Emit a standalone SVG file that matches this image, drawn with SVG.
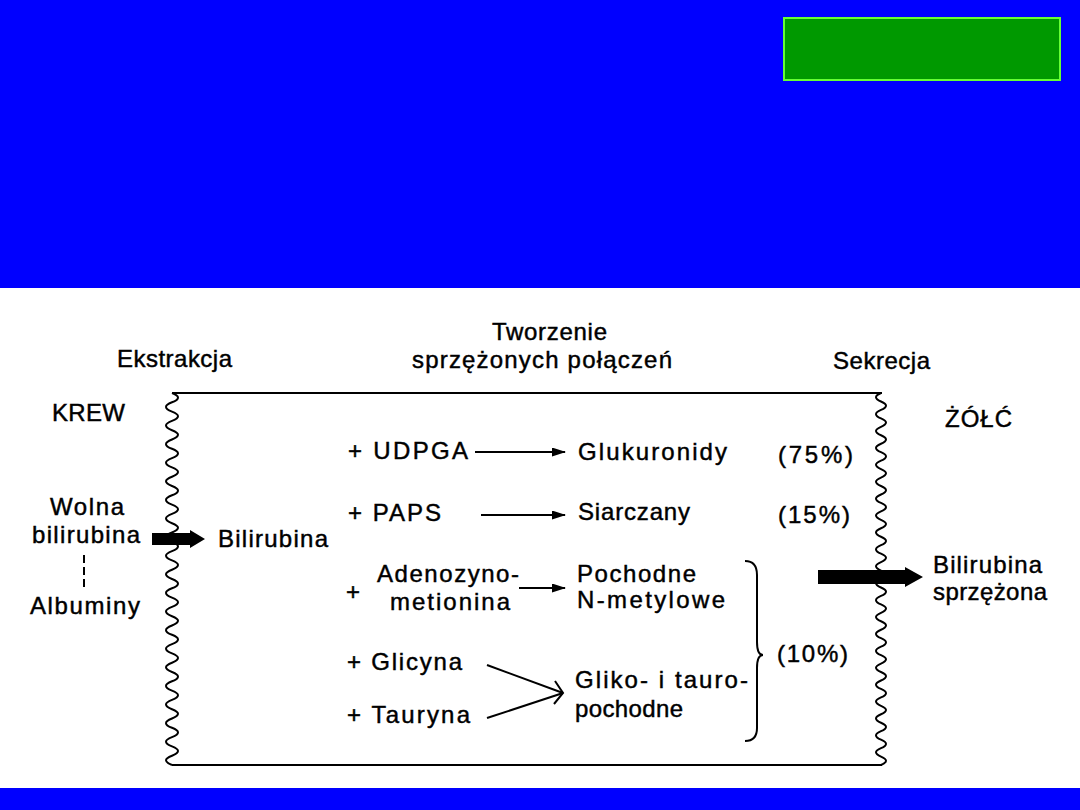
<svg xmlns="http://www.w3.org/2000/svg" width="1080" height="810" viewBox="0 0 1080 810">
<defs>
<style>
text{font-family:"Liberation Sans",Arial,sans-serif;font-size:24px;fill:#000;stroke:#000;stroke-width:0.45;}
.ln{stroke:#000;stroke-width:2;fill:none;}
.wave{stroke:#000;stroke-width:2;fill:none;}
.thick{fill:#000;}
</style>
<marker id="ah" markerUnits="userSpaceOnUse" markerWidth="14" markerHeight="10" refX="13" refY="4.5" orient="auto">
<path d="M0,0 L14,4.5 L0,9 z" fill="#000"/>
</marker>
</defs>
<rect x="0" y="0" width="1080" height="810" fill="#fff"/>
<g id="header">
<rect x="0" y="0" width="1080" height="288" fill="#0000ff"/>
<rect x="784" y="18" width="276" height="62" fill="#009900" stroke="#66ff33" stroke-width="2"/>
</g>
<rect id="footer" x="0" y="788" width="1080" height="22" fill="#0000ff"/>
<g id="frame">
<line class="ln" x1="172" y1="393" x2="882" y2="393"/>
<line class="ln" x1="172" y1="765" x2="882" y2="765"/>
<path class="wave" d="M172,393 q12,4.65 0,9.3 t0,9.3 t0,9.3 t0,9.3 t0,9.3 t0,9.3 t0,9.3 t0,9.3 t0,9.3 t0,9.3 t0,9.3 t0,9.3 t0,9.3 t0,9.3 t0,9.3 t0,9.3 t0,9.3 t0,9.3 t0,9.3 t0,9.3 t0,9.3 t0,9.3 t0,9.3 t0,9.3 t0,9.3 t0,9.3 t0,9.3 t0,9.3 t0,9.3 t0,9.3 t0,9.3 t0,9.3 t0,9.3 t0,9.3 t0,9.3 t0,9.3 t0,9.3 t0,9.3 t0,9.3 t0,9.3"/>
<path class="wave" d="M881,393 q-10,4.227 0,8.455 t0,8.455 t0,8.455 t0,8.455 t0,8.455 t0,8.455 t0,8.455 t0,8.455 t0,8.455 t0,8.455 t0,8.455 t0,8.455 t0,8.455 t0,8.455 t0,8.455 t0,8.455 t0,8.455 t0,8.455 t0,8.455 t0,8.455 t0,8.455 t0,8.455 t0,8.455 t0,8.455 t0,8.455 t0,8.455 t0,8.455 t0,8.455 t0,8.455 t0,8.455 t0,8.455 t0,8.455 t0,8.455 t0,8.455 t0,8.455 t0,8.455 t0,8.455 t0,8.455 t0,8.455 t0,8.455 t0,8.455 t0,8.455 t0,8.455 t0,8.455"/>
</g>
<g id="headings">
<text x="117" y="367" textLength="115" lengthAdjust="spacing">Ekstrakcja</text>
<text x="492" y="340" textLength="115" lengthAdjust="spacing">Tworzenie</text>
<text x="412" y="368" textLength="260" lengthAdjust="spacing">sprzężonych połączeń</text>
<text x="833" y="369" textLength="97" lengthAdjust="spacing">Sekrecja</text>
<text x="52" y="421" textLength="73" lengthAdjust="spacing">KREW</text>
<text x="945" y="427" textLength="67" lengthAdjust="spacing">ŻÓŁĆ</text>
</g>
<g id="node-wolna">
<text x="50" y="515" textLength="74" lengthAdjust="spacing">Wolna</text>
<text x="32" y="543" textLength="108" lengthAdjust="spacing">bilirubina</text>
</g>
<g id="node-albuminy">
<text x="30" y="614" textLength="110" lengthAdjust="spacing">Albuminy</text>
</g>
<g id="node-bilirubina">
<text x="218" y="547" textLength="110" lengthAdjust="spacing">Bilirubina</text>
</g>
<g id="node-udpga"><text x="348" y="459" textLength="120" lengthAdjust="spacing">+ UDPGA</text></g>
<g id="node-paps"><text x="348" y="521" textLength="93" lengthAdjust="spacing">+ PAPS</text></g>
<g id="node-adeno">
<text x="346" y="600">+</text>
<text x="377" y="582" textLength="142" lengthAdjust="spacing">Adenozyno-</text>
<text x="390" y="610" textLength="120" lengthAdjust="spacing">metionina</text>
</g>
<g id="node-glicyna"><text x="347" y="670" textLength="115" lengthAdjust="spacing">+ Glicyna</text></g>
<g id="node-tauryna"><text x="347" y="723" textLength="123" lengthAdjust="spacing">+ Tauryna</text></g>
<g id="node-glukuronidy"><text x="578" y="460" textLength="149" lengthAdjust="spacing">Glukuronidy</text></g>
<g id="node-siarczany"><text x="578" y="520" textLength="112" lengthAdjust="spacing">Siarczany</text></g>
<g id="node-pochodne">
<text x="577" y="582" textLength="119" lengthAdjust="spacing">Pochodne</text>
<text x="577" y="608" textLength="148" lengthAdjust="spacing">N-metylowe</text>
</g>
<g id="node-gliko">
<text x="575" y="688" textLength="173" lengthAdjust="spacing">Gliko- i tauro-</text>
<text x="575" y="717" textLength="108" lengthAdjust="spacing">pochodne</text>
</g>
<g id="percent">
<text x="778" y="463" textLength="75" lengthAdjust="spacing">(75%)</text>
<text x="778" y="523" textLength="72" lengthAdjust="spacing">(15%)</text>
<text x="777" y="662" textLength="71" lengthAdjust="spacing">(10%)</text>
<path class="ln" stroke-width="2.5" d="M745,561 Q757,561 757,575 L757,642 Q757,655 763,655 Q757,655 757,668 L757,728 Q757,741 745,741"/>
</g>
<g id="node-sprzezona">
<text x="933" y="573" textLength="109" lengthAdjust="spacing">Bilirubina</text>
<text x="933" y="600" textLength="114" lengthAdjust="spacing">sprzężona</text>
</g>
<g id="connectors">
<polygon class="thick" points="152,533 190,533 190,530 205,539 190,548 190,545 152,545"/>
<polygon class="thick" points="818,570 905,570 905,567 923,577 905,587 905,584 818,584"/>
<line class="ln" x1="84" y1="555" x2="84" y2="588" stroke-width="3" stroke-dasharray="8,4"/>
<line class="ln" x1="475" y1="452" x2="565" y2="452" marker-end="url(#ah)"/>
<line class="ln" x1="481" y1="515" x2="565" y2="515" marker-end="url(#ah)"/>
<line class="ln" x1="519" y1="588" x2="565" y2="588" marker-end="url(#ah)"/>
<line class="ln" x1="487" y1="665" x2="563" y2="693"/>
<line class="ln" x1="487" y1="718" x2="563" y2="693"/>
<polyline class="ln" points="555,681 563,693 554,704"/>
</g>
</svg>
